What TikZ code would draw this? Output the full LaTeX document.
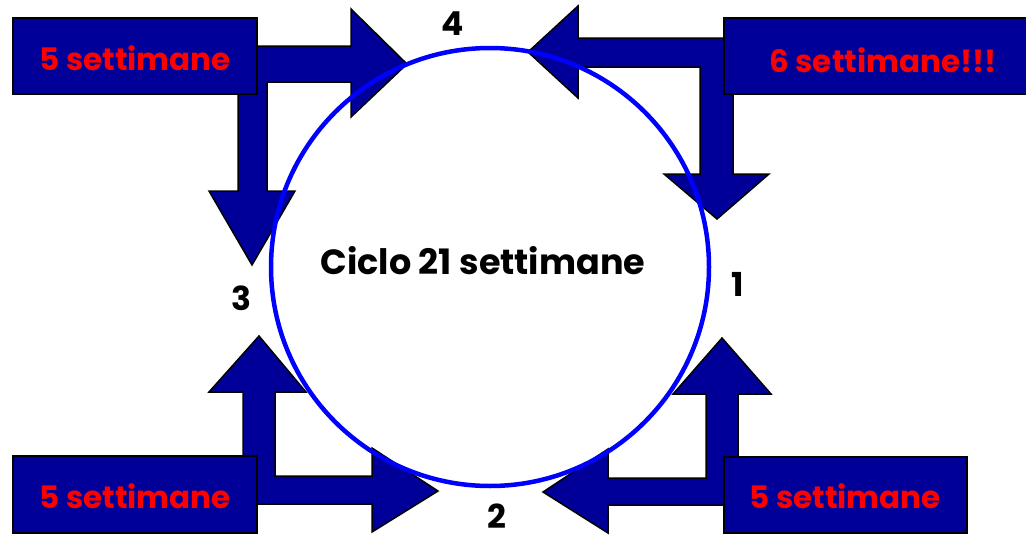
\documentclass[tikz,border=0pt]{standalone}
\usepackage{fontspec}
\setmainfont{Poppins}
\definecolor{navy}{RGB}{0,0,153}
\definecolor{ringblue}{RGB}{0,0,255}
\definecolor{txtred}{RGB}{255,0,0}
\tikzset{
  arrowshape/.style={fill=navy, draw=black, line width=1.5pt, line join=miter},
  weekbox/.style={fill=navy, draw=black, line width=1.5pt, anchor=north west, inner sep=0pt, outer sep=0pt},
  weektext/.style={text=txtred, font=\bfseries\fontsize{31}{34}\selectfont, inner sep=0pt},
  numlabel/.style={font=\bfseries\fontsize{33}{36}\selectfont, inner sep=0pt},
  ring/.style={draw=ringblue, line width=4.5pt, circle, minimum size=438pt, inner sep=0pt}
}
\begin{document}
\begin{tikzpicture}[x=1pt,y=-1pt]
\useasboundingbox (0,0) rectangle (1026,538);
% top-left bent arrow
\draw[arrowshape] (238,46) -- (351,46) -- (351,9) -- (407,64) -- (351,117) -- (351,82) -- (267,82)
  -- (267,191) -- (295,191) -- (252,265) -- (209,191) -- (238,191) -- cycle;
% top-right bent arrow
\draw[arrowshape] (760,38) -- (578,38) -- (578,6) -- (528,52) -- (578,98) -- (578,67) -- (700,67)
  -- (700,174) -- (664,174) -- (717,219) -- (769,174) -- (733,174) -- (733,67) -- (760,67) -- cycle;
% bottom-left bent arrow
\draw[arrowshape] (243,504) -- (243,392) -- (209,392) -- (259,336) -- (306,392) -- (275,392) -- (275,476)
  -- (372,476) -- (372,448) -- (438,491) -- (372,532) -- (372,504) -- cycle;
% bottom-right bent arrow
\draw[arrowshape] (738,505) -- (738,394) -- (771,394) -- (722,338) -- (673,394) -- (706,394) -- (706,478)
  -- (608,478) -- (608,449) -- (543,492) -- (608,533) -- (608,505) -- cycle;
% boxes
\node[weekbox, minimum width=244pt, minimum height=76pt] (tl) at (13,18) {};
\node[weekbox, minimum width=310pt, minimum height=76pt] (tr) at (724,18) {};
\node[weekbox, minimum width=244pt, minimum height=77pt] (bl) at (13,456) {};
\node[weekbox, minimum width=243pt, minimum height=76pt] (br) at (724,457) {};
\node[weektext] (tlt) at (135,58) {5 settimane};
\node[weektext] (trt) at (883,60) {6 settimane!!!};
\node[weektext] (blt) at (135,496) {5 settimane};
\node[weektext] (brt) at (845,496) {5 settimane};
% cycle
\node[ring] (c) at (490,267) {};
\node[font=\bfseries\fontsize{35}{40}\selectfont, inner sep=0pt] (ct) at (483,261) {Ciclo 21 settimane};
\node[numlabel] (n4) at (453,24) {4};
\node[numlabel] (n1) at (738,284) {1};
\node[numlabel] (n2) at (497,516) {2};
\node[numlabel] (n3) at (241,298) {3};
\end{tikzpicture}
\end{document}
